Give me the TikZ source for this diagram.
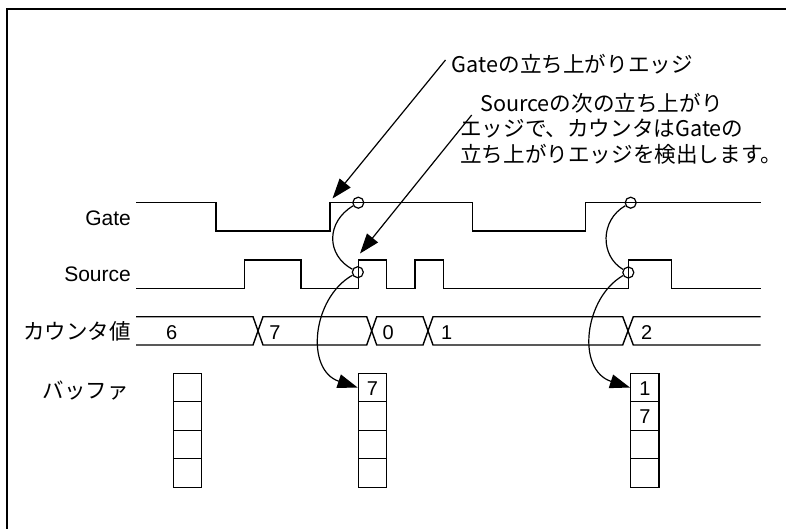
\documentclass[tikz,border=0pt]{standalone}
\usepackage{fontspec}
\setmainfont{Liberation Sans}
\newfontfamily\jp{Noto Sans CJK JP}
\usetikzlibrary{arrows.meta}
\tikzset{
  sig/.style={line width=1.4pt, line join=miter},
  lbl/.style={font=\fontsize{21}{24}\selectfont, inner sep=0pt},
  note/.style={font=\jp\fontsize{21.6}{24}\selectfont, inner sep=0pt, anchor=base west},
  val/.style={font=\fontsize{20}{24}\selectfont, inner sep=0pt, anchor=base},
  edgemark/.style={circle, draw, line width=1.2pt, minimum size=11pt, inner sep=0pt},
  cell/.style={rectangle, draw, line width=1.4pt, minimum width=28.4pt, minimum height=28.5pt, inner sep=0pt},
  bigtip/.style={-{Triangle[length=20pt,width=14pt]}},
  conn/.style={line width=1.2pt}
}
\begin{document}
\begin{tikzpicture}[x=1pt,y=-1pt]
\useasboundingbox (0,0) rectangle (786,528);
% frame
\draw[line width=2.2pt] (7,530) -- (7,9) -- (788,9);

% left labels
\node[lbl, anchor=base east] (lgate) at (131,225) {Gate};
\node[lbl, anchor=base east] (lsrc) at (131,281.7) {Source};
\node[lbl, anchor=base east] (lcnt) at (131,339) {\jp\fontsize{21.5}{24}\selectfont カウンタ値};
\node[lbl, anchor=base east] (lbuf) at (129,398) {\jp\fontsize{21.5}{24}\selectfont バッファ};

% Gate signal
\draw[sig] (136,202.7) -- (216,202.7) -- (216,231) -- (330,231) -- (330,202.7)
  -- (472.3,202.7) -- (472.3,231) -- (585.7,231) -- (585.7,202.7) -- (760.7,202.7);
% Source signal
\draw[sig] (136,288.3) -- (244.3,288.3) -- (244.3,260) -- (301,260) -- (301,288.3)
  -- (358.3,288.3) -- (358.3,260) -- (386.7,260) -- (386.7,288.3) -- (415,288.3)
  -- (415,260) -- (443.3,260) -- (443.3,288.3) -- (628.3,288.3) -- (628.3,260)
  -- (671.7,260) -- (671.7,288.3) -- (760.7,288.3);
% Counter bus
\draw[sig] (136,316.7) -- (253,316.7) -- (263,345) -- (366.7,345) -- (376.7,316.7)
  -- (423,316.7) -- (433,345) -- (622.7,345) -- (633.3,316.7) -- (760.7,316.7);
\draw[sig] (136,345) -- (253,345) -- (263,316.7) -- (366.7,316.7) -- (376.7,345)
  -- (423,345) -- (433,316.7) -- (622.7,316.7) -- (633.3,345) -- (760.7,345);
\node[val] (v6) at (171.7,339) {6};
\node[val] (v7) at (275,339) {7};
\node[val] (v0) at (388.3,339) {0};
\node[val] (v1) at (446.7,339) {1};
\node[val] (v2) at (646.7,339) {2};

% buffers
\foreach \n/\x in {1/187.5, 2/372.5, 3/644.85} {
  \node[cell] (b\n a) at (\x,387.5) {};
  \node[cell] (b\n b) at (\x,416) {};
  \node[cell] (b\n c) at (\x,444.5) {};
  \node[cell] (b\n d) at (\x,473) {};
}
\node[val] (bv27) at (372.5,395) {7};
\node[val] (bv31) at (644.85,395) {1};
\node[val] (bv37) at (644.85,423.3) {7};

% edge marks
\node[edgemark] (gc1) at (358.3,202.7) {};
\node[edgemark] (sc1) at (357.8,272.2) {};
\node[edgemark] (gc2) at (630.7,202.7) {};
\node[edgemark] (sc2) at (628.3,272.5) {};

% curved connectors
\draw[conn] (gc1) .. controls (326,222) and (326,255) .. (sc1);
\draw[conn, bigtip] (sc1) .. controls (312,298) and (305,370) .. (b2a.west);
\draw[conn] (gc2) .. controls (600,220) and (600,256) .. (sc2);
\draw[conn, bigtip] (sc2) .. controls (584,298) and (576,370) .. (b3a.west);

% annotations
\node[note] (n1) at (451.7,72.3) {Gateの立ち上がりエッジ};
\node[note] (n2a) at (480,111.7) {Sourceの次の立ち上がり};
\node[note] (n2b) at (460,136.7) {エッジで、カウンタはGateの};
\node[note] (n2c) at (460,162.7) {立ち上がりエッジを検出します。};

\coordinate (l1s) at (445.5,60);
\coordinate (l1e) at (332.5,198.5);
\coordinate (l2s) at (471.7,115);
\coordinate (l2e) at (360,253.5);
\draw[conn, bigtip] (l1s) -- (l1e);
\draw[conn, bigtip] (l2s) -- (l2e);
\end{tikzpicture}
\end{document}
